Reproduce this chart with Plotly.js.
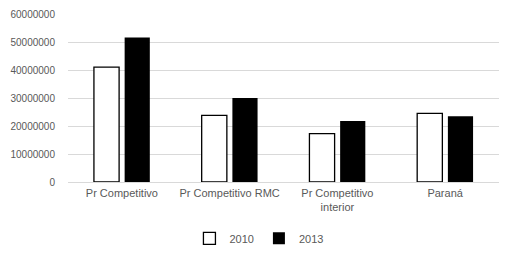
<!DOCTYPE html>
<html><head><meta charset="utf-8">
<script src="https://cdn.plot.ly/plotly-3.0.1.min.js"></script>
<style>html,body{margin:0;padding:0;background:#fff}#chart{width:514px;height:258px}</style>
</head><body><div id="chart"></div>
<script>
var categories = ["Pr Competitivo", "Pr Competitivo RMC", "Pr Competitivo<br>interior", "Paraná"];
var values2010 = [41000000, 23800000, 17300000, 24500000];
var values2013 = [51600000, 30000000, 21800000, 23500000];
var yTicks = [0, 10000000, 20000000, 30000000, 40000000, 50000000, 60000000];

var traces = [
  {type: "bar", name: "2010", x: categories, y: values2010,
   marker: {color: "#ffffff", line: {color: "#000000", width: 1.3}}},
  {type: "bar", name: "2013", x: categories, y: values2013,
   marker: {color: "#000000", line: {color: "#000000", width: 0}}}
];
var layout = {
  width: 514, height: 258,
  margin: {l: 68, r: 15, t: 14, b: 76, autoexpand: false},
  paper_bgcolor: "#ffffff", plot_bgcolor: "#ffffff",
  font: {family: "Liberation Sans, Arial, sans-serif", size: 10, color: "#595959"},
  barmode: "group", bargap: 0.43, bargroupgap: 0.18,
  showlegend: true,
  legend: {orientation: "h", x: 0.443, xanchor: "center", y: -0.335, yanchor: "middle",
           font: {size: 11, color: "#595959"}, itemwidth: 30, traceorder: "normal"},
  xaxis: {showgrid: false, showline: false, ticks: "", ticklabelstandoff: 3,
          tickfont: {size: 11, color: "#595959"}, automargin: false},
  yaxis: {range: [0, 60000000], tickvals: yTicks, ticktext: yTicks.map(String),
          showgrid: true, gridcolor: "#d9d9d9", gridwidth: 1,
          zeroline: true, zerolinecolor: "#d9d9d9", zerolinewidth: 1,
          showline: false, ticks: "", ticklabelstandoff: 12, automargin: false,
          tickfont: {size: 10, color: "#595959"}}
};
Plotly.newPlot("chart", traces, layout, {staticPlot: true, displayModeBar: false});
</script></body></html>
